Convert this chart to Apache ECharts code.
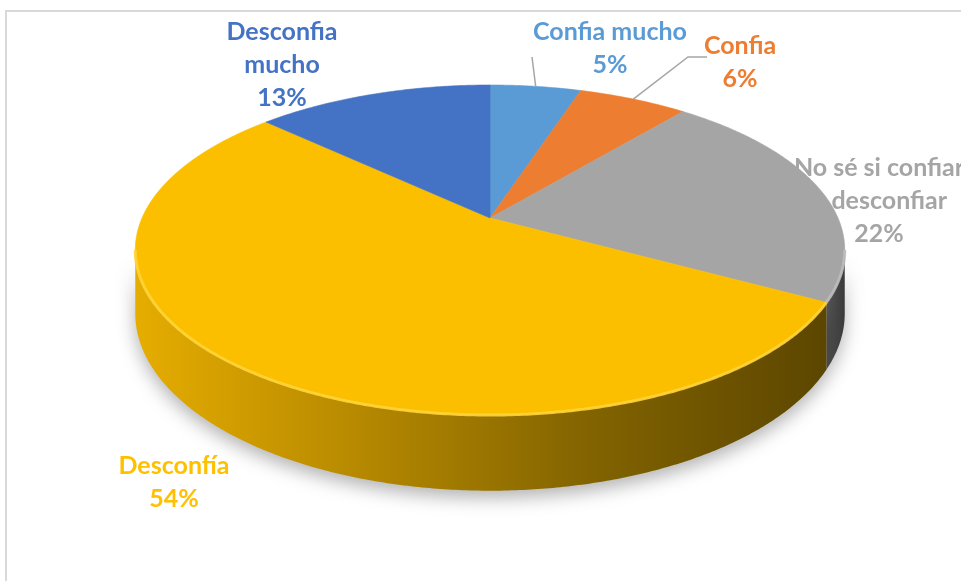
<!DOCTYPE html>
<html><head><meta charset="utf-8">
<script src="https://cdn.jsdelivr.net/npm/echarts@6.0.0/dist/echarts.min.js"></script>
<style>html,body{margin:0;padding:0;background:#fff}#c{width:961px;height:581px}</style>
</head><body><div id="c"></div>
<script>
// ---- data ----
const categories = ['Confia mucho', 'Confia', 'No sé si confiar o desconfiar', 'Desconfía', 'Desconfia mucho'];
const values = [5, 6, 22, 54, 13];
const labelLines = ['Confia mucho', 'Confia', 'No sé si confiar\no desconfiar', 'Desconfía', 'Desconfia\nmucho'];

// ---- styles / layout ----
const topColors = ['#5b9bd5', '#ed7d31', '#a5a5a5', '#fbbf00', '#4472c4'];
const edgeHi = ['#7fb3e0', '#f59a5a', '#bcbcbc', '#ffd43a', '#6a8fd3'];
const textColors = ['#5b9bd5', '#ed7d31', '#a5a5a5', '#ffc000', '#4472c4'];
const wallStops = [
  [['#4a7fb0', 0], ['#2f5577', 1]],
  [['#c0622a', 0], ['#7a3e18', 1]],
  [['#555555', 0], ['#3a3a3a', 1]],
  [['#e6ad00', 0], ['#b58800', 0.33], ['#836400', 0.65], ['#5c4600', 1]],
  [['#36609f', 0], ['#203a60', 1]]
];
const labelAnchor = [[610, 48.5], [740, 62.5], [879, 201], [174, 482.5], [282, 65]];
const leaderEnd = [[[532, 57]], [[688, 57], [707, 57]], null, null, null];

const CX = 490, CY = 218, RX = 348, RY = 158.8, K = 0.194, H = 61;
const total = values.reduce((a, b) => a + b, 0);
const starts = [];
let acc = 0;
values.forEach(v => { starts.push(acc / total * 360); acc += v; });

function P(phi, drop) {
  const t = (90 - phi) * Math.PI / 180;
  const u = Math.cos(t), v = Math.sin(t);
  const w = 1 + K * v;
  return [CX + RX * u / w, CY - RY * v / w + (drop ? H / w : 0)];
}
const visLo = 90 + Math.asin(K) * 180 / Math.PI;
const visHi = 270 - Math.asin(K) * 180 / Math.PI;

function arcPts(a, b, drop) {
  const pts = [];
  const n = Math.max(2, Math.ceil(Math.abs(b - a) / 0.5));
  for (let i = 0; i <= n; i++) pts.push(P(a + (b - a) * i / n, drop));
  return pts;
}

function renderPie(params, api) {
  const i = params.dataIndex;
  const a = starts[i], b = a + api.value(0) / total * 360;
  const children = [];
  const lo = Math.max(a, visLo), hi = Math.min(b, visHi);
  if (hi > lo) {
    const pts = arcPts(lo, hi, false).concat(arcPts(hi, lo, true));
    const stops = wallStops[i].map(s => ({ offset: s[1], color: s[0] }));
    children.push({
      type: 'polygon', z2: 1,
      shape: { points: pts },
      style: {
        fill: new echarts.graphic.LinearGradient(0, 0, 1, 0, stops),
        shadowBlur: 18, shadowColor: 'rgba(0,0,0,0.3)', shadowOffsetY: 7
      }
    });
  }
  const face = [[CX, CY]].concat(arcPts(a, b, false));
  children.push({
    type: 'polygon', z2: 5,
    shape: { points: face },
    style: { fill: topColors[i], stroke: topColors[i], lineWidth: 0.6 }
  });
  if (hi > lo) {
    children.push({
      type: 'polyline', z2: 6,
      shape: { points: arcPts(lo, hi, false) },
      style: { stroke: edgeHi[i], lineWidth: 3, fill: null, opacity: 0.9 }
    });
  }
  return { type: 'group', children };
}

function renderLabel(params, api) {
  const i = params.dataIndex;
  const v = api.value(0);
  const txt = labelLines[i] + '\n' + Math.round(v / total * 100) + '%';
  const children = [{
    type: 'text',
    style: {
      text: txt, x: labelAnchor[i][0], y: labelAnchor[i][1],
      fill: textColors[i], font: 'bold 25px Lato',
      align: 'center', verticalAlign: 'middle', lineHeight: 33
    }
  }];
  if (leaderEnd[i]) {
    const mid = starts[i] + v / total * 180;
    const pts = [P(mid, false)].concat(leaderEnd[i]);
    children.push({
      type: 'polyline', shape: { points: pts },
      style: { stroke: '#a6a6a6', lineWidth: 1.5, fill: null }
    });
  }
  return { type: 'group', children };
}

const chart = echarts.init(document.getElementById('c'), null, { renderer: 'canvas' });
chart.setOption({
  animation: false,
  backgroundColor: '#ffffff',
  graphic: [{
    type: 'rect', z: 0,
    shape: { x: 6, y: 11, width: 1000, height: 700 },
    style: { fill: 'none', stroke: '#d9d9d9', lineWidth: 2 }
  }],
  series: [
    { type: 'custom', coordinateSystem: 'none', z: 1, silent: true,
      renderItem: renderLabel, data: values.map(v => [v]) },
    { type: 'custom', coordinateSystem: 'none', z: 2, silent: true,
      renderItem: renderPie, data: values.map(v => [v]) }
  ]
});
</script></body></html>
